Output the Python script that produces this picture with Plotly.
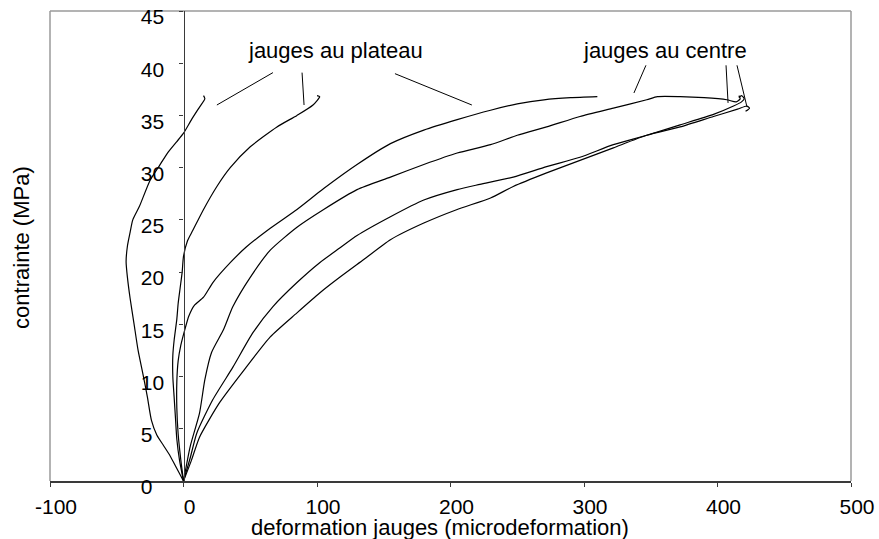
import plotly.graph_objects as go

# ---- data ----
plateau1_x = [0, -5, -10, -15, -20, -24, -27, -30, -34, -37, -40, -42, -43, -42, -40, -38, -33, -25, -18, -12, -5, 0, 6, 12, 16, 15]
plateau1_y = [0, 1.2, 2.4, 3.4, 4.4, 5.8, 8, 10, 12.5, 15, 17.5, 19.5, 21, 22.5, 23.8, 25, 26.3, 28.8, 30.2, 31.4, 32.5, 33.3, 34.6, 35.8, 36.6, 36.9]

plateau2_x = [0, -3, -5, -6, -7, -8, -8, -7, -5, -4, -2.5, -1, 0, 3, 7, 15, 25, 35, 50, 70, 85, 97, 102, 100]
plateau2_y = [0, 2, 4, 6, 8, 10, 12, 13.5, 15.5, 17, 18.5, 20, 21.5, 23, 24, 26, 28.2, 30, 32, 33.9, 35, 36, 36.8, 36.9]

plateau3_x = [0, -2, -4, -5, -5, -4, -2, 1, 4, 8, 15, 22, 35, 47, 65, 85, 105, 130, 155, 180, 205, 230, 250, 270, 290, 310]
plateau3_y = [0, 2, 4.5, 7, 9.5, 11.5, 13, 14.5, 15.8, 16.8, 17.6, 19, 20.9, 22.4, 24.2, 26, 28, 30.3, 32.3, 33.6, 34.6, 35.5, 36.1, 36.5, 36.7, 36.8]

centre1_x = [0, 5, 12, 16, 21, 30, 37, 50, 65, 85, 105, 130, 155, 180, 205, 230, 250, 272, 297, 322, 347, 355, 372, 390, 407, 414, 417, 416]
centre1_y = [0, 3.3, 6.5, 9.7, 12.3, 14.5, 16.7, 19.5, 22.1, 24.3, 26, 27.9, 29.1, 30.3, 31.4, 32.2, 33.1, 33.9, 34.9, 35.7, 36.5, 36.8, 36.8, 36.7, 36.5, 36.3, 36.6, 36.9]

centre2_x = [0, 5, 10, 22, 37, 52, 67, 85, 102, 117, 130, 155, 180, 205, 222, 247, 272, 297, 322, 347, 372, 397, 412, 418, 420, 418, 416]
centre2_y = [0, 2.2, 4.6, 7.8, 10.9, 14.2, 16.7, 19, 20.9, 22.3, 23.5, 25.3, 26.9, 27.9, 28.4, 29.1, 30.1, 31, 32.2, 33.1, 34.1, 35.1, 35.9, 36.3, 36.6, 36.9, 36.7]

centre3_x = [0, 6, 12, 27, 47, 65, 85, 102, 117, 135, 155, 180, 205, 230, 247, 272, 297, 322, 347, 372, 397, 415, 422, 424, 421]
centre3_y = [0, 2, 4.2, 7.5, 10.9, 13.8, 16.1, 18, 19.5, 21.2, 23.1, 24.7, 26, 27.1, 28.2, 29.5, 30.7, 31.9, 33.1, 33.9, 34.9, 35.6, 35.9, 35.7, 35.4]

curves = [
    (plateau1_x, plateau1_y), (plateau2_x, plateau2_y), (plateau3_x, plateau3_y),
    (centre1_x, centre1_y), (centre2_x, centre2_y), (centre3_x, centre3_y),
]

x_ticks = [-100, 0, 100, 200, 300, 400, 500]
x_ticktext = ["-100", "0", "100", "200", "300", "400", "500"]
y_ticks = [0, 5, 10, 15, 20, 25, 30, 35, 40, 45]
y_ticktext = [("%d" % v) + ("\u2007" if v < 10 else "") for v in y_ticks]

label_plateau = "jauges au plateau"
label_centre = "jauges au centre"
label_plateau_pos = (114, 41.2)
label_centre_pos = (361, 41.2)
# leader lines (x0, y0, x1, y1) in data units
leaders = [
    (67, 39.1, 25, 36.0),
    (88.8, 39.1, 90.3, 36.0),
    (158.4, 39.0, 216, 36.0),
    (346.4, 39.8, 337.4, 37.15),
    (406.4, 39.8, 407.9, 36.2),
    (414.6, 39.8, 422.1, 35.8),
]

FONT = "Arial, 'Liberation Sans', sans-serif"

fig = go.Figure()
for cx, cy in curves:
    fig.add_trace(go.Scatter(x=cx, y=cy, mode="lines",
                             line=dict(color="black", width=1.2, shape="spline", smoothing=0.6),
                             showlegend=False, hoverinfo="skip"))

axis_dark = "#3a3a3a"
fig.update_layout(
    width=879, height=539,
    margin=dict(l=50, r=28, t=11, b=58, autoexpand=False),
    paper_bgcolor="white", plot_bgcolor="white",
    font=dict(family=FONT, size=21, color="black"),
    xaxis=dict(range=[-100, 500], tickvals=x_ticks, ticktext=x_ticktext,
               ticks="outside", ticklen=4, automargin=False, ticklabeloverflow="allow",
               tickcolor=axis_dark, tickwidth=1.3, showline=True, linecolor=axis_dark,
               linewidth=1.6, showgrid=False, zeroline=False,
               tickfont=dict(family=FONT, size=21, color="black"),
               ticklabelshift=6, ticklabelstandoff=2),
    xaxis2=dict(range=[-100, 500], overlaying="x", matches="x", anchor="y",
                automargin=False,
                tickvals=x_ticks, ticks="inside", ticklen=4, tickcolor=axis_dark,
                tickwidth=1.3, showticklabels=False, showline=False,
                showgrid=False, zeroline=False),
    yaxis=dict(range=[0, 45], tickvals=y_ticks, ticktext=y_ticktext, automargin=False,
               ticklabeloverflow="allow",
               anchor="free", position=1/6, ticks="outside", ticklen=4,
               tickcolor=axis_dark, tickwidth=1.3, showline=True, linecolor=axis_dark,
               linewidth=1.3, showgrid=False, zeroline=False,
               tickfont=dict(family=FONT, size=21, color="black"),
               ticklabelshift=6, ticklabelstandoff=11),
    yaxis2=dict(range=[0, 45], overlaying="y", matches="y", anchor="free",
                automargin=False,
                position=1/6, tickvals=y_ticks, ticks="inside", ticklen=4,
                tickcolor=axis_dark, tickwidth=1.3, showticklabels=False,
                showline=False, showgrid=False, zeroline=False),
)

# grey frame (left, top, right)
grey = "#9a9a9a"
for x0, y0, x1, y1 in [(0, 0, 0, 1), (0, 1, 1, 1), (1, 1, 1, 0)]:
    fig.add_shape(type="line", xref="paper", yref="paper", x0=x0, y0=y0, x1=x1, y1=y1,
                  line=dict(color=grey, width=1.5), layer="below")

for x0, y0, x1, y1 in leaders:
    fig.add_shape(type="line", xref="x", yref="y", x0=x0, y0=y0, x1=x1, y1=y1,
                  line=dict(color="black", width=1))

fig.add_annotation(x=label_plateau_pos[0], y=label_plateau_pos[1], xref="x", yref="y",
                   text=label_plateau, showarrow=False, xanchor="center", yanchor="middle",
                   font=dict(family=FONT, size=22, color="black"))
fig.add_annotation(x=label_centre_pos[0], y=label_centre_pos[1], xref="x", yref="y",
                   text=label_centre, showarrow=False, xanchor="center", yanchor="middle",
                   font=dict(family=FONT, size=22, color="black"))

# axis titles
fig.add_annotation(x=(440 - 50) / 801, y=(481 - 527) / 470, xref="paper", yref="paper",
                   text="deformation jauges (microdeformation)", showarrow=False,
                   xanchor="center", yanchor="middle",
                   font=dict(family=FONT, size=22, color="black"))
fig.add_annotation(x=(22 - 50) / 801, y=0.496, xref="paper", yref="paper",
                   text="contrainte (MPa)", showarrow=False, textangle=-90,
                   xanchor="center", yanchor="middle",
                   font=dict(family=FONT, size=22, color="black"))

fig.write_html("out.html", config={"displayModeBar": False},
               post_script="document.body.style.margin='0';document.body.style.padding='0';")
